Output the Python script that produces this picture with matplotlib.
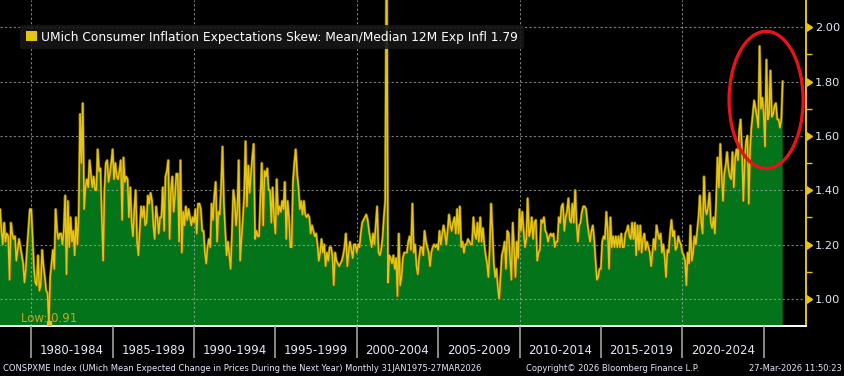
import matplotlib.pyplot as plt
import matplotlib.patheffects as pe
import matplotlib.transforms as mtransforms
from matplotlib.patches import Ellipse, Patch
import numpy as np

# UMich mean/median 12M expected inflation, monthly from Jan 1978
skew_1978_1989 = [
    1.30, 1.33, 1.25, 1.20, 1.28, 1.21, 1.24, 1.23, 1.07, 1.28, 1.24, 1.22,
    1.23, 1.14, 1.18, 1.22, 1.19, 1.16, 1.13, 1.06, 1.11, 1.19, 1.26, 1.33,
    1.33, 1.22, 1.11, 1.06, 1.05, 1.16, 1.03, 1.05, 1.18, 1.12, 1.08, 1.03,
    1.02, 0.91, 1.08, 1.13, 1.18, 1.11, 1.33, 1.25, 1.22, 1.24, 1.24, 1.20,
    1.25, 1.38, 1.09, 1.36, 1.19, 1.30, 1.21, 1.25, 1.16, 1.30, 1.20, 1.30,
    1.68, 1.50, 1.72, 1.33, 1.41, 1.44, 1.41, 1.51, 1.46, 1.41, 1.45, 1.40,
    1.40, 1.55, 1.47, 1.48, 1.30, 1.14, 1.40, 1.50, 1.51, 1.43, 1.46, 1.50,
    1.55, 1.44, 1.50, 1.45, 1.44, 1.47, 1.51, 1.29, 1.52, 1.43, 1.45, 1.44,
    1.30, 1.41, 1.28, 1.23, 1.33, 1.40, 1.21, 1.16, 1.25, 1.34, 1.30, 1.34,
    1.27, 1.28, 1.38, 1.35, 1.39, 1.36, 1.27, 1.22, 1.34, 1.30, 1.24, 1.30,
    1.30, 1.41, 1.25, 1.45, 1.47, 1.51, 1.22, 1.40, 1.45, 1.32, 1.38, 1.46,
    1.46, 1.21, 1.51, 1.17, 1.32, 1.27, 1.34, 1.29, 1.33, 1.30, 1.27, 1.30,
]
skew_1990_1999 = [
    1.28, 1.33, 1.24, 1.35, 1.35, 1.33, 1.25, 1.25, 1.17, 1.13, 1.19, 1.22,
    1.19, 1.35, 1.29, 1.38, 1.43, 1.21, 1.32, 1.31, 1.41, 1.56, 1.35, 1.25,
    1.16, 1.21, 1.16, 1.11, 1.24, 1.40, 1.36, 1.27, 1.33, 1.51, 1.14, 1.22,
    1.29, 1.38, 1.58, 1.34, 1.49, 1.39, 1.46, 1.52, 1.57, 1.22, 1.25, 1.23,
    1.23, 1.38, 1.50, 1.27, 1.47, 1.45, 1.48, 1.40, 1.40, 1.28, 1.41, 1.30,
    1.24, 1.44, 1.31, 1.34, 1.32, 1.36, 1.33, 1.43, 1.22, 1.36, 1.30, 1.19,
    1.19, 1.43, 1.50, 1.55, 1.46, 1.41, 1.33, 1.36, 1.31, 1.36, 1.31, 1.30,
    1.31, 1.30, 1.24, 1.27, 1.25, 1.23, 1.24, 1.20, 1.14, 1.17, 1.22, 1.17,
    1.20, 1.12, 1.17, 1.14, 1.19, 1.19, 1.16, 1.05, 1.17, 1.14, 1.13, 1.12,
    1.13, 1.14, 1.16, 1.19, 1.24, 1.12, 1.17, 1.21, 1.18, 1.15, 1.20, 1.20,
]
skew_2000_2009 = [
    1.17, 1.20, 1.19, 1.24, 1.28, 1.29, 1.30, 1.31, 1.29, 1.25, 1.22, 1.19,
    1.24, 1.20, 1.27, 1.34, 1.17, 1.16, 1.18, 1.22, 1.30, 1.36, 2.40, 1.06,
    1.16, 1.15, 1.13, 1.16, 1.11, 1.15, 1.01, 1.24, 1.05, 1.08, 1.15, 1.17,
    1.17, 1.17, 1.21, 1.23, 1.18, 1.35, 1.17, 1.20, 1.12, 1.09, 1.15, 1.19,
    1.19, 1.16, 1.25, 1.21, 1.19, 1.17, 1.12, 1.17, 1.19, 1.20, 1.19, 1.20,
    1.18, 1.25, 1.20, 1.24, 1.27, 1.24, 1.20, 1.25, 1.31, 1.27, 1.25, 1.28,
    1.30, 1.24, 1.33, 1.24, 1.34, 1.19, 1.21, 1.17, 1.20, 1.20, 1.22, 1.21,
    1.20, 1.20, 1.30, 1.24, 1.22, 1.28, 1.21, 1.30, 1.21, 1.26, 1.20, 1.16,
    1.13, 1.08, 1.18, 1.35, 1.25, 1.13, 1.08, 1.11, 1.04, 1.00, 1.08, 1.16,
    1.18, 1.21, 1.11, 1.25, 1.24, 1.15, 1.07, 1.28, 1.18, 1.08, 1.21, 1.15,
]
skew_2010_2019 = [
    1.33, 1.25, 1.32, 1.25, 1.19, 1.22, 1.37, 1.23, 1.25, 1.30, 1.22, 1.28,
    1.29, 1.14, 1.17, 1.18, 1.29, 1.28, 1.30, 1.25, 1.24, 1.21, 1.23, 1.24,
    1.23, 1.24, 1.19, 1.21, 1.21, 1.30, 1.28, 1.34, 1.35, 1.25, 1.30, 1.32,
    1.37, 1.29, 1.28, 1.35, 1.28, 1.40, 1.28, 1.21, 1.27, 1.28, 1.32, 1.34,
    1.34, 1.33, 1.28, 1.24, 1.21, 1.25, 1.27, 1.22, 1.14, 1.07, 1.08, 1.11,
    1.11, 1.21, 1.23, 1.22, 1.32, 1.25, 1.11, 1.30, 1.19, 1.23, 1.19, 1.23,
    1.19, 1.23, 1.19, 1.24, 1.19, 1.19, 1.24, 1.25, 1.27, 1.23, 1.22, 1.28,
    1.22, 1.28, 1.16, 1.27, 1.18, 1.27, 1.17, 1.22, 1.24, 1.18, 1.21, 1.19,
    1.17, 1.12, 1.17, 1.22, 1.18, 1.27, 1.24, 1.22, 1.24, 1.17, 1.20, 1.15,
    1.08, 1.18, 1.17, 1.24, 1.29, 1.23, 1.25, 1.18, 1.19, 1.23, 1.21, 1.20,
]
skew_2020_2026 = [
    1.17, 1.16, 1.14, 1.05, 1.17, 1.13, 1.27, 1.14, 1.17, 1.23, 1.20, 1.25,
    1.30, 1.38, 1.28, 1.24, 1.45, 1.33, 1.31, 1.34, 1.39, 1.28, 1.26, 1.30,
    1.24, 1.36, 1.52, 1.41, 1.57, 1.46, 1.36, 1.46, 1.49, 1.54, 1.48, 1.45,
    1.44, 1.54, 1.41, 1.52, 1.55, 1.51, 1.62, 1.66, 1.54, 1.36, 1.50, 1.58,
    1.60, 1.35, 1.55, 1.63, 1.68, 1.73, 1.70, 1.67, 1.63, 1.93, 1.70, 1.74,
    1.68, 1.56, 1.88, 1.66, 1.68, 1.84, 1.67, 1.68, 1.71, 1.72, 1.66, 1.66,
    1.63, 1.66, 1.80,
]
start_year = 1978

period_edges = [1980, 1985, 1990, 1995, 2000, 2005, 2010, 2015, 2020, 2025]
period_labels = ["1980-1984", "1985-1989", "1990-1994", "1995-1999", "2000-2004",
                 "2005-2009", "2010-2014", "2015-2019", "2020-2024"]
grid_years = [1980, 1990, 2000, 2010, 2020]
ytick_values = [1.0, 1.2, 1.4, 1.6, 1.8, 2.0]
yminor_values = [1.1, 1.3, 1.5, 1.7, 1.9]

legend_text = "UMich Consumer Inflation Expectations Skew: Mean/Median 12M Exp Infl 1.79"
footer_left = ("CONSPXME Index (UMich Mean Expected Change in Prices During the Next Year) "
               "Monthly 31JAN1975-27MAR2026")
footer_mid = "Copyright\u00a9 2026 Bloomberg Finance L.P."
footer_right = "27-Mar-2026 11:50:23"

skew = np.array(skew_1978_1989 + skew_1990_1999 + skew_2000_2009
                + skew_2010_2019 + skew_2020_2026)
dates = start_year + np.arange(len(skew)) / 12.0

GREEN = "#04741a"
YELLOW = "#e6c416"
TEXT = "#e2e8f6"
GRID = "#a8a8a8"

fig = plt.figure(figsize=(8.44, 3.76), dpi=100, facecolor="black")
ax = fig.add_axes([0, 50 / 376, 806 / 844, 326 / 376])
ax.set_facecolor("black")

ax.fill_between(dates, skew, 0, color=GREEN, lw=0, zorder=1)
ax.plot(dates, skew, color=YELLOW, lw=1.1, zorder=3,
        path_effects=[pe.Stroke(linewidth=2.0, foreground="#6e6200"), pe.Normal()])

ax.set_xlim(1978.08, 2027.6)
ax.set_ylim(0.90, 2.10)

# grid
ax.set_axisbelow(False)
ax.set_yticks(ytick_values)
ax.yaxis.grid(True, color=GRID, ls=(0, (2, 2)), lw=0.8, alpha=0.75)
for yr in grid_years:
    ax.axvline(yr, color=GRID, ls=(0, (2, 2)), lw=0.8, alpha=0.75, zorder=2.5)

# spines
for s in ["left", "top"]:
    ax.spines[s].set_visible(False)
ax.spines["right"].set_color(YELLOW)
ax.spines["right"].set_linewidth(1.4)
ax.spines["bottom"].set_color("white")
ax.spines["bottom"].set_linewidth(1.4)

# right y axis
ax.yaxis.tick_right()
ax.set_yticklabels([f"{v:.2f}" for v in ytick_values])
ax.tick_params(axis="y", which="major", length=0, pad=6.5, labelsize=8.2, labelcolor=TEXT)
ax.set_yticks(yminor_values, minor=True)
ax.tick_params(axis="y", which="minor", length=4, width=1, color=YELLOW, direction="out")
trans = mtransforms.blended_transform_factory(ax.transAxes, ax.transData)
ax.plot(np.ones(len(ytick_values)), ytick_values, ls="none", marker=9, ms=5.5,
        color=YELLOW, transform=trans, clip_on=False, zorder=6)

# x axis: period dividers and labels
ax.set_xticks(period_edges)
ax.set_xticklabels([])
ax.tick_params(axis="x", which="major", length=23, width=1.2, color="#a0a0a0", direction="out")
centers = [e + 2.5 for e in period_edges[:-1]]
ax.set_xticks(centers, minor=True)
ax.set_xticklabels(period_labels, minor=True)
ax.tick_params(axis="x", which="minor", length=0, pad=13, labelsize=8.5, labelcolor=TEXT)

# legend
leg = ax.legend(handles=[Patch(facecolor=YELLOW, edgecolor="none")], labels=[legend_text],
                loc="upper left", bbox_to_anchor=(20 / 806, 1 - 25 / 326),
                fontsize=8.8, labelcolor="white", facecolor="#171717", edgecolor="none",
                framealpha=0.88, handlelength=0.9, handleheight=0.9, handletextpad=0.4,
                borderpad=0.45, borderaxespad=0, fancybox=True)
leg.set_zorder(4)

# low marker
i_low = int(np.argmin(skew))
ax.plot(dates[i_low], skew[i_low], marker="s", ms=3.5, color=YELLOW, zorder=5, clip_on=False)
ax.text(dates[i_low], 0.905, f"Low: {skew[i_low]:.2f}", ha="center", va="bottom",
        color="#c9a51e", fontsize=8.5, zorder=5)

# red circle highlight
ax.add_patch(Ellipse((2025.15, 1.732), 4.55, 0.505, fill=False, ec="#e8121a", lw=2.4, zorder=6))

# footer
fig.text(0.003, 0.019, footer_left, fontsize=6.0, color=TEXT, va="center", ha="left")
fig.text(0.726, 0.019, footer_mid, fontsize=6.0, color=TEXT, va="center", ha="center")
fig.text(0.998, 0.019, footer_right, fontsize=6.0, color=TEXT, va="center", ha="right")

fig.savefig("out.png", dpi=100, facecolor="black")
